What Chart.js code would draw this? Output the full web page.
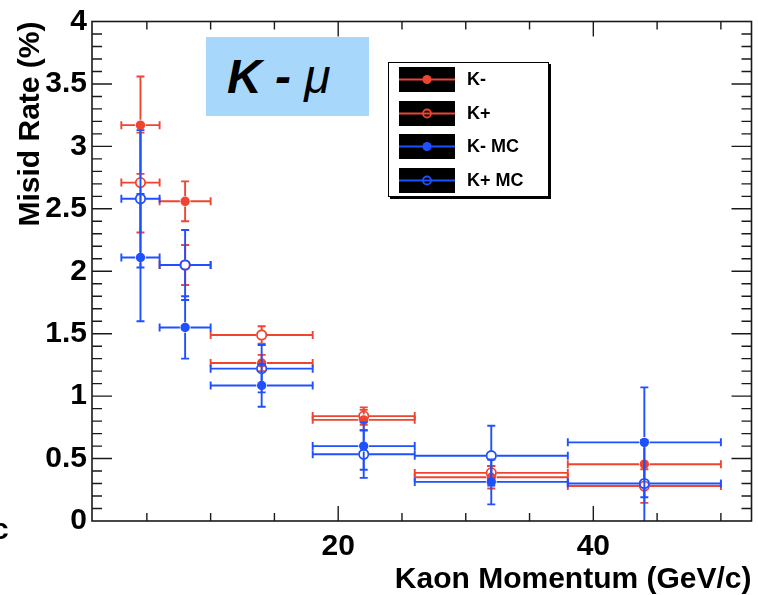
<!DOCTYPE html>
<html>
<head>
<meta charset="utf-8">
<script src="https://cdn.jsdelivr.net/npm/chart.js@4/dist/chart.umd.min.js"></script>
<style>
  html, body { margin: 0; padding: 0; background: #fff; }
  #wrap { position: relative; width: 758px; height: 595px; overflow: hidden;
          font-family: "Liberation Sans", Arial, Helvetica, sans-serif; }
  #plot { position: absolute; left: 0; top: 0; }
  .tag { position: absolute; left: 206px; top: 37px; width: 163px; height: 79px; background: #a7d8fb; }
  .tag span { position: absolute; left: 21px; top: 16px; line-height: 48px; font-size: 48px;
              font-weight: bold; font-style: italic; color: #000; white-space: pre; }
  .tag span i { font-weight: normal; }
  .legend { position: absolute; left: 388px; top: 62px; width: 159px; height: 133px;
            border: 1px solid #000; background: #fff; box-shadow: 2px 2px 0 #000; }
  .row { position: absolute; left: 10px; height: 25px; display: flex; align-items: center; }
  .row svg { display: block; }
  .row span { margin-left: 12px; font-weight: bold; font-size: 18px; color: #000; white-space: pre; }
  .edge { position: absolute; left: -8px; top: 511px; font-size: 30px; line-height: 36px;
          font-weight: bold; color: #000; }
</style>
</head>
<body>
<div id="wrap">
  <canvas id="plot" width="758" height="595"></canvas>
  <div class="tag"><span>K - <i>μ</i></span></div>
  <div class="legend" id="legend"></div>
  <div class="edge">c</div>
</div>
<script>
// Momentum bins (GeV/c): centres and half widths
const binCenters    = [4.5, 8, 14, 22, 32, 44];
const binHalfWidths = [1.5, 2, 4, 4, 6, 6];

// Misidentification rates (%) and their errors
const kMinus       = [3.17, 2.56, 1.265, 0.81, 0.35, 0.455];
const kMinusErr    = [0.39, 0.16, 0.065, 0.08, 0.09, 0.03];
const kPlus        = [2.71, 2.05, 1.49, 0.84, 0.385, 0.28];
const kPlusErr     = [0.40, 0.16, 0.07, 0.07, 0.055, 0.135];
const kMinusMC     = [2.11, 1.55, 1.085, 0.60, 0.313, 0.63];
const kMinusMCErr  = [0.51, 0.25, 0.17, 0.19, 0.18, 0.44];
const kPlusMC      = [2.58, 2.05, 1.22, 0.535, 0.523, 0.30];
const kPlusMCErr   = [0.55, 0.28, 0.19, 0.19, 0.24, 0.35];

// Axis tick labels
const xTickLabels = [20, 40];
const yTickLabels = [0, 0.5, 1, 1.5, 2, 2.5, 3, 3.5, 4];

const RED = '#ee4430';
const BLUE = '#1f50ff';
const FONT = '"Liberation Sans", Arial, Helvetica, sans-serif';

function series(label, vals, errs, color, filled, order) {
  return {
    label,
    order,
    data: binCenters.map((x, i) => ({ x, y: vals[i], xErr: binHalfWidths[i], yErr: errs[i] })),
    filled,
    barColor: color,
    pointStyle: 'circle',
    pointRadius: 4.7,
    pointHoverRadius: 4.7,
    pointBorderWidth: filled ? 0 : 1.8,
    pointBackgroundColor: filled ? color : 'rgba(0,0,0,0)',
    pointBorderColor: color,
    showLine: false
  };
}

const datasets = [
  series('K-', kMinus, kMinusErr, RED, true, 3),
  series('K+', kPlus, kPlusErr, RED, false, 2),
  series('K- MC', kMinusMC, kMinusMCErr, BLUE, true, 1),
  series('K+ MC', kPlusMC, kPlusMCErr, BLUE, false, 0)
];

// Error bars with end caps, drawn under each dataset's markers and
// left open where the marker sits.
const errorBars = {
  id: 'errorBars',
  beforeDatasetDraw(chart, args) {
    const ds = chart.data.datasets[args.index];
    const { ctx, chartArea: a, scales: { x, y } } = chart;
    const gap = ds.pointRadius + 0.6;
    const cap = 4;
    ctx.save();
    ctx.beginPath();
    ctx.rect(a.left, a.top, a.width, a.height);
    ctx.clip();
    ctx.strokeStyle = ds.barColor;
    ctx.lineWidth = 1.9;
    ctx.beginPath();
    ds.data.forEach(p => {
      const px = x.getPixelForValue(p.x), py = y.getPixelForValue(p.y);
      const x0 = x.getPixelForValue(p.x - p.xErr), x1 = x.getPixelForValue(p.x + p.xErr);
      const yLo = y.getPixelForValue(p.y - p.yErr), yHi = y.getPixelForValue(p.y + p.yErr);
      ctx.moveTo(x0, py); ctx.lineTo(px - gap, py);
      ctx.moveTo(px + gap, py); ctx.lineTo(x1, py);
      ctx.moveTo(x0, py - cap); ctx.lineTo(x0, py + cap);
      ctx.moveTo(x1, py - cap); ctx.lineTo(x1, py + cap);
      if (yLo > py + gap) {
        ctx.moveTo(px, py + gap); ctx.lineTo(px, yLo);
        ctx.moveTo(px - cap, yLo); ctx.lineTo(px + cap, yLo);
      }
      if (yHi < py - gap) {
        ctx.moveTo(px, py - gap); ctx.lineTo(px, yHi);
        ctx.moveTo(px - cap, yHi); ctx.lineTo(px + cap, yHi);
      }
    });
    ctx.stroke();
    ctx.restore();
  }
};

// Closed frame with inward ticks mirrored on all four sides
const frameTicks = {
  id: 'frameTicks',
  afterDraw(chart) {
    const { ctx, chartArea: a, scales: { x, y } } = chart;
    ctx.save();
    ctx.strokeStyle = '#1a1a1a';
    ctx.lineWidth = 1.6;
    ctx.strokeRect(a.left, a.top, a.right - a.left, a.bottom - a.top);
    ctx.lineWidth = 1.4;
    ctx.beginPath();
    for (let v = 5; v <= 50; v += 5) {
      const px = x.getPixelForValue(v);
      const len = v % 20 === 0 ? 15 : 8;
      ctx.moveTo(px, a.bottom); ctx.lineTo(px, a.bottom - len);
      ctx.moveTo(px, a.top); ctx.lineTo(px, a.top + len);
    }
    for (let k = 1; k < 40; k++) {
      const py = y.getPixelForValue(k / 10);
      const len = k % 5 === 0 ? 20 : 10;
      ctx.moveTo(a.left, py); ctx.lineTo(a.left + len, py);
      ctx.moveTo(a.right, py); ctx.lineTo(a.right - len, py);
    }
    ctx.stroke();
    ctx.restore();
  }
};

const tickFont = { family: FONT, size: 30, weight: 'bold', lineHeight: 1.1 };
const titleFont = { family: FONT, size: 30, weight: 'bold', lineHeight: 1.2 };

new Chart(document.getElementById('plot'), {
  type: 'scatter',
  data: { datasets },
  options: {
    responsive: false,
    devicePixelRatio: 1,
    animation: false,
    events: [],
    layout: { padding: { left: 0, right: 1, top: 19, bottom: 0 } },
    plugins: { legend: { display: false }, tooltip: { enabled: false } },
    scales: {
      x: {
        type: 'linear', min: 0.7, max: 52.4,
        grid: { display: false, drawTicks: false },
        border: { display: false },
        afterBuildTicks: s => { s.ticks = xTickLabels.map(v => ({ value: v })); },
        afterFit: s => { s.height = 74; },
        ticks: { font: tickFont, color: '#000', padding: 9, maxRotation: 0, autoSkip: false,
                 callback: v => String(v) },
        title: { display: true, text: 'Kaon Momentum (GeV/c)', align: 'end', color: '#000',
                 font: { family: FONT, size: 30, weight: 'bold', lineHeight: 1 }, padding: 0 }
      },
      y: {
        type: 'linear', min: 0, max: 4,
        grid: { display: false, drawTicks: false },
        border: { display: false },
        afterBuildTicks: s => { s.ticks = yTickLabels.map(v => ({ value: v })); },
        afterFit: s => { s.width = 92; },
        ticks: { font: tickFont, color: '#000', padding: 5, autoSkip: false,
                 callback: v => String(v) },
        title: { display: true, text: 'Misid Rate (%)', align: 'end', color: '#000',
                 font: titleFont, padding: { top: 13, bottom: 0 } }
      }
    }
  },
  plugins: [errorBars, frameTicks]
});

// Legend: dark swatch with the series line and marker, then its name
const legend = document.getElementById('legend');
const rowTops = [4, 38, 71, 105];
datasets.forEach((ds, i) => {
  const row = document.createElement('div');
  row.className = 'row';
  row.style.top = rowTops[i] + 'px';
  const c = ds.barColor;
  const mark = ds.filled
    ? `<circle cx="28" cy="12.5" r="4.6" fill="${c}"/>`
    : `<circle cx="28" cy="12.5" r="4" fill="none" stroke="${c}" stroke-width="1.8"/>`;
  row.innerHTML =
    `<svg width="56" height="25"><rect width="56" height="25" fill="#000"/>` +
    `<line x1="0" y1="12.5" x2="56" y2="12.5" stroke="${c}" stroke-width="2"/>${mark}</svg>` +
    `<span>${ds.label}</span>`;
  legend.appendChild(row);
});
</script>
</body>
</html>
